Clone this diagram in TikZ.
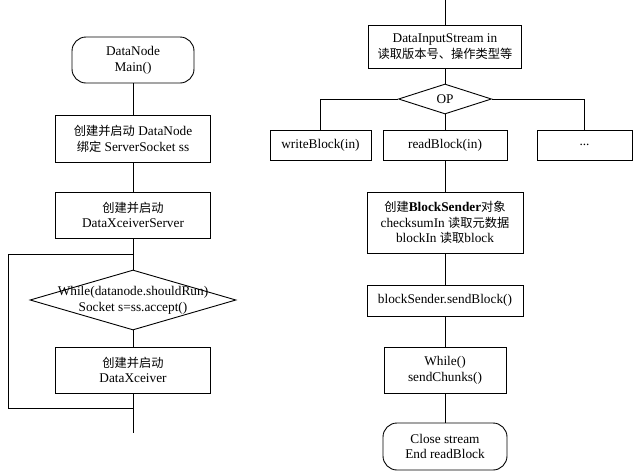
\documentclass[tikz,border=0pt]{standalone}
\usepackage{fontspec}
\setmainfont{Liberation Serif}
\newfontfamily\cjk{Noto Sans CJK SC}[Scale=0.92]
\usetikzlibrary{shapes.geometric}
\newcommand{\zh}[1]{{\cjk #1}}

\begin{document}
\begin{tikzpicture}[x=1pt, y=-1pt, inner sep=0pt, line width=0.9pt,
  every node/.style={font=\fontsize{13.3}{15.8}\selectfont, align=center},
  box/.style={rectangle, draw=black, minimum width=#1},
  term/.style={rectangle, rounded corners=14pt, draw=black, minimum width=#1},
  decision/.style={diamond, draw=black, inner sep=0pt}]
\useasboundingbox (0,0) rectangle (638,472);
% left part
\node (main) at (133,60) [term=122pt, minimum height=46pt] {DataNode\\Main()};
\node (create) at (133,138.5) [box=155pt, minimum height=47pt] {\zh{创建并启动} DataNode\\\zh{绑定} ServerSocket ss};
\node (server) at (133,215) [box=155pt, minimum height=46pt] {\zh{创建并启动}\\DataXceiverServer};
\node (loop) at (133,300) [decision, minimum width=206pt, minimum height=60pt] {};
\node (looptext) at (loop.center) {While(datanode.shouldRun)\\Socket s=ss.accept()};
\node (xceiver) at (133,370) [box=155pt, minimum height=46pt] {\zh{创建并启动}\\DataXceiver};
\coordinate (ltop) at (133,254);
\coordinate (lbot) at (133,408);
\coordinate (lend) at (133,433);
\draw[-] (main) -- (create);
\draw[-] (create) -- (server);
\draw[-] (server) -- (loop);
\draw[-] (loop) -- (xceiver);
\draw[-] (xceiver) -- (lend);
\draw[-] (lbot) -- (8,408) -- (8,254) -- (ltop);
% right part
\coordinate (rtop) at (445,0);
\node (stream) at (445,46.5) [box=153pt, minimum height=43pt] {DataInputStream in\\\zh{读取版本号、操作类型等}};
\node (op) at (445,99) [decision, minimum width=93pt, minimum height=30pt] {};
\node (optext) at (op.center) {OP};
\node (write) at (320.5,145) [box=101pt, minimum height=30pt] {writeBlock(in)};
\node (read) at (445,145) [box=124pt, minimum height=30pt] {readBlock(in)};
\node (more) at (584.5,145) [box=95pt, minimum height=30pt] {...};
\node (sender) at (445,222.5) [box=156pt, minimum height=61pt] {\zh{创建}\textbf{BlockSender}\zh{对象}\\checksumIn \zh{读取元数据}\\blockIn \zh{读取}block};
\node (send) at (445,300.5) [box=156pt, minimum height=31pt] {blockSender.sendBlock()};
\node (chunks) at (445,370) [box=122pt, minimum height=46pt] {While()\\sendChunks()};
\node (close) at (445,446.5) [term=124pt, minimum height=47pt] {Close stream\\End readBlock};
\draw[-] (rtop) -- (stream);
\draw[-] (stream) -- (op);
\draw[-] (op.west) -| (write.north);
\draw[-] (op.east) -| (more.north);
\draw[-] (op) -- (read);
\draw[-] (read) -- (sender);
\draw[-] (sender) -- (send);
\draw[-] (send) -- (chunks);
\draw[-] (chunks) -- (close);
\end{tikzpicture}
\end{document}
